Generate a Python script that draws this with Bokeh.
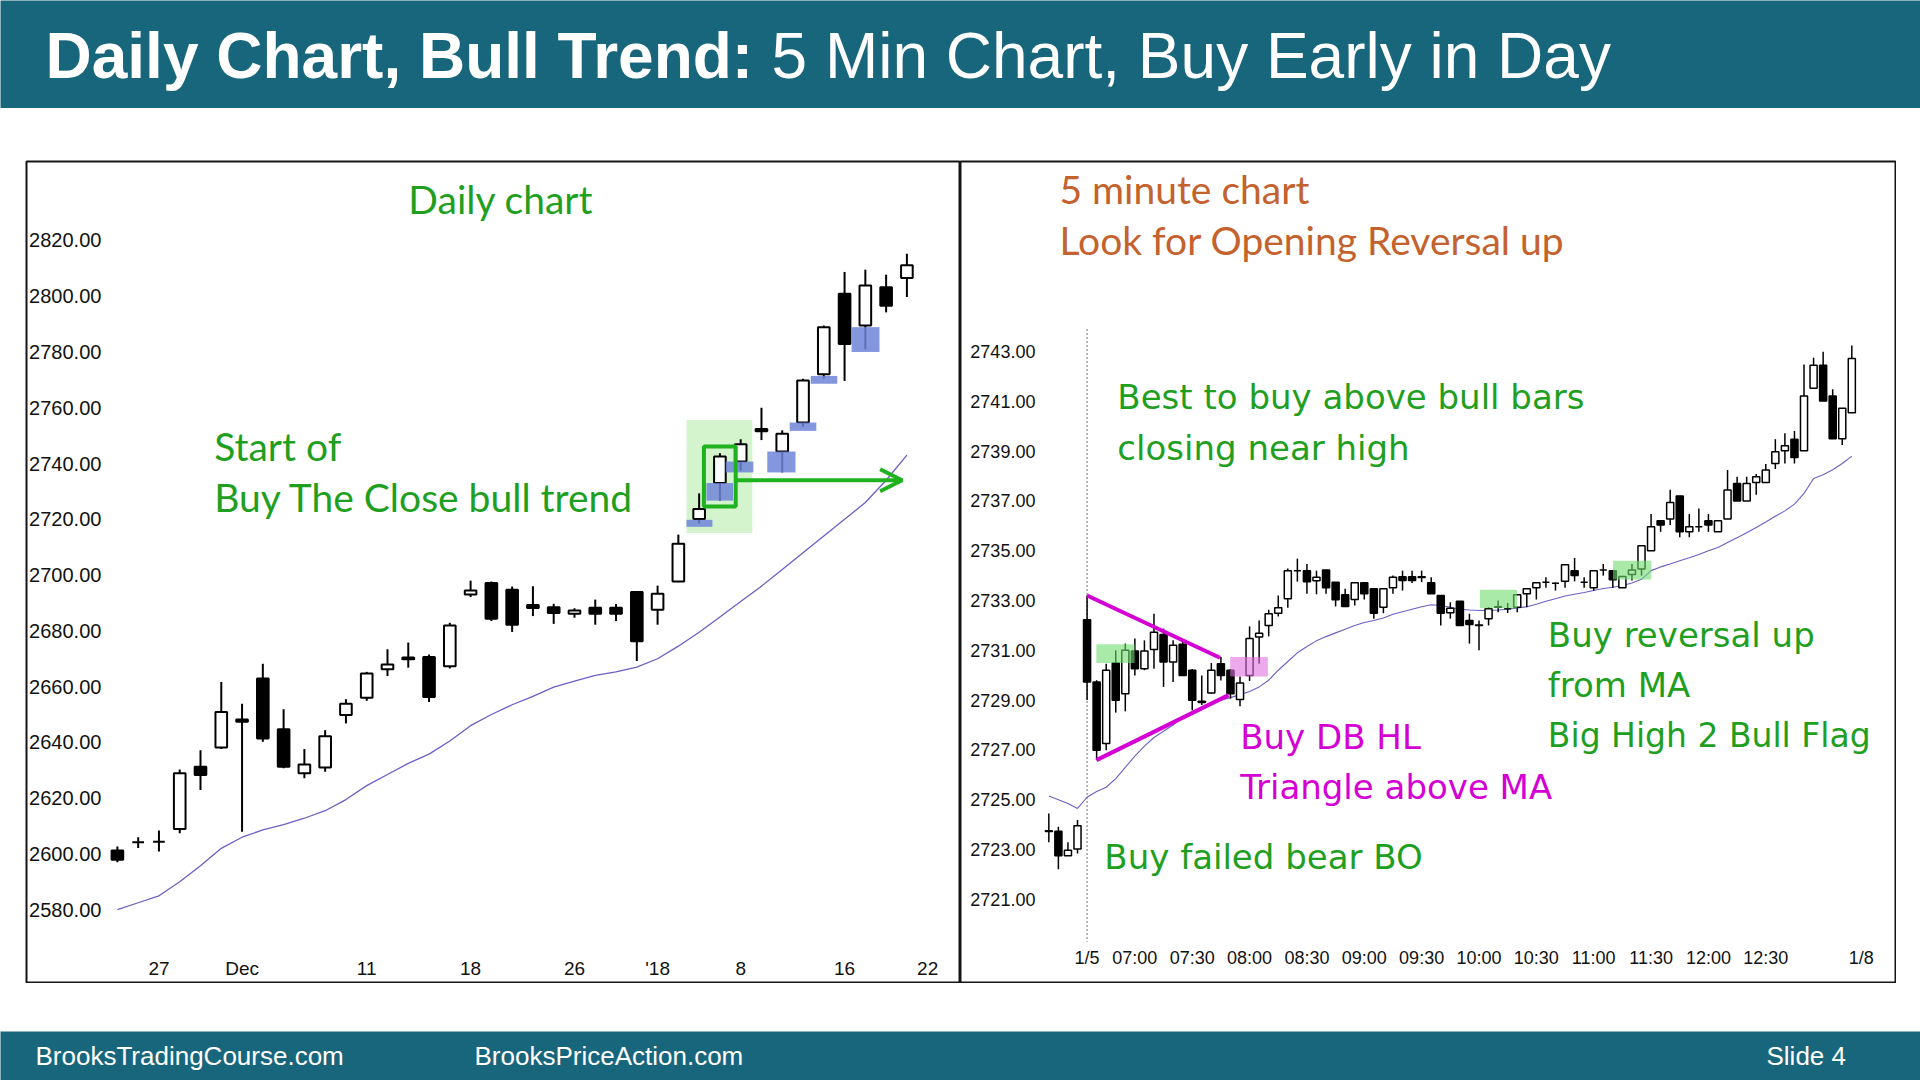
import numpy as np
from bokeh.plotting import figure
from bokeh.models import (ColumnDataSource, Range1d, FixedTicker, NumeralTickFormatter,
                          Label, Arrow, OpenHead, Spacer)
from bokeh.layouts import column, row
from bokeh.embed import file_html
from bokeh.resources import INLINE
from bokeh.core.properties import value

# ---------------- Daily chart data (bar index 0..38) ----------------
D_OPEN = [2601.2, 2604.2, 2604.4, 2608.9, 2631.3, 2638.2, 2648.2, 2662.9, 2644.7, 2628.9,
          2631.0, 2649.8, 2656.0, 2666.2, 2670.4, 2670.6, 2667.3, 2693.0, 2697.2, 2694.7,
          2689.3, 2688.5, 2686.1, 2688.3, 2688.3, 2693.9, 2687.6, 2697.7, 2720.1, 2733.0,
          2740.7, 2752.4, 2744.3, 2754.7, 2772.0, 2800.9, 2789.5, 2803.2, 2806.5]
D_HIGH = [2602.7, 2606.0, 2608.4, 2630.3, 2637.2, 2661.7, 2653.9, 2668.2, 2651.9, 2637.6,
          2644.4, 2655.5, 2665.3, 2673.4, 2675.8, 2671.5, 2682.9, 2698.0, 2697.7, 2695.9,
          2696.0, 2689.7, 2688.1, 2691.2, 2689.6, 2694.1, 2696.2, 2714.5, 2729.3, 2743.7,
          2748.7, 2760.0, 2751.9, 2770.4, 2789.5, 2808.7, 2809.5, 2807.7, 2815.2]
D_LOW = [2597.0, 2602.1, 2600.9, 2607.4, 2622.9, 2637.6, 2608.0, 2640.2, 2630.7, 2627.1,
         2629.5, 2646.8, 2654.9, 2663.8, 2666.8, 2654.5, 2666.5, 2692.1, 2683.5, 2679.6,
         2685.3, 2682.5, 2684.7, 2682.2, 2683.5, 2669.2, 2682.2, 2697.4, 2718.5, 2726.7,
         2737.4, 2748.4, 2736.8, 2753.2, 2770.4, 2769.6, 2780.9, 2794.2, 2799.7]
D_CLOSE = [2597.9, 2604.2, 2604.4, 2628.9, 2628.3, 2650.9, 2647.4, 2641.4, 2631.3, 2632.1,
           2642.2, 2653.9, 2664.7, 2667.9, 2669.8, 2656.3, 2681.9, 2694.5, 2684.3, 2682.2,
           2688.2, 2686.4, 2687.3, 2686.1, 2686.1, 2676.3, 2693.3, 2711.2, 2723.7, 2742.5,
           2746.9, 2751.6, 2750.7, 2769.8, 2788.9, 2782.9, 2803.8, 2796.6, 2811.1]
D_MA = [2580.0, 2582.5, 2585.0, 2590.0, 2595.8, 2602.0, 2606.0, 2608.6, 2610.5, 2612.8,
        2615.5, 2619.5, 2624.5, 2628.5, 2632.5, 2635.8, 2640.5, 2646.0, 2650.0, 2653.5,
        2656.5, 2659.8, 2662.0, 2664.0, 2665.3, 2667.0, 2670.0, 2674.5, 2679.5, 2685.0,
        2690.5, 2696.0, 2702.0, 2708.0, 2714.0, 2720.0, 2726.0, 2734.0, 2743.0]
D_TICK_POS = [2, 6, 12, 17, 22, 26, 30, 35, 39]
D_TICK_LAB = ["27", "Dec", "11", "18", "26", "'18", "8", "16", "22"]
D_Y_TICKS = [2580, 2600, 2620, 2640, 2660, 2680, 2700, 2720, 2740, 2760, 2780, 2800, 2820]

# highlighted tails (blue boxes) on daily chart
D_BOX_LEFT = [27.39, 28.35, 29.28, 31.28, 32.36, 33.37, 35.34]
D_BOX_RIGHT = [28.64, 29.63, 30.61, 32.64, 33.64, 34.65, 36.68]
D_BOX_BOT = [2717.3, 2726.7, 2736.8, 2736.8, 2751.7, 2768.6, 2780.0]
D_BOX_TOP = [2719.8, 2733.0, 2740.7, 2744.3, 2754.7, 2771.4, 2788.9]
D_ZONE = dict(left=[27.39], right=[30.56], bottom=[2715.1], top=[2755.6])
D_RECT = dict(left=[28.23], right=[29.76], bottom=[2724.6], top=[2746.1])
D_ARROW = dict(x0=29.76, x1=37.77, y=2734.0)

# ---------------- 5 minute chart data (bar index -4..80) ----------------
R_IDX = list(range(-4, 81))
R_OPEN = [2723.75, 2723.73, 2722.75, 2723.02,
          2732.23, 2729.73, 2727.26, 2730.49, 2729.26, 2730.97, 2730.26, 2731.03, 2731.64, 2730.53,
          2731.24, 2730.20, 2728.95, 2729.29, 2730.46, 2730.20, 2729.02, 2729.99, 2731.53, 2732.00,
          2732.49, 2733.07, 2734.20, 2734.20, 2733.79, 2734.23, 2733.73, 2733.23, 2733.04, 2733.71,
          2733.47, 2732.73, 2733.51, 2733.95, 2733.95, 2733.95, 2733.71, 2733.20, 2732.51, 2732.97,
          2732.20, 2732.02, 2732.27, 2732.75, 2732.67, 2732.73, 2733.27, 2733.51, 2733.73, 2733.69,
          2733.77, 2734.20, 2733.73, 2733.51, 2734.23, 2734.20, 2733.51, 2734.04, 2734.27, 2735.00,
          2736.20, 2736.27, 2737.20, 2735.76, 2735.96, 2736.20, 2735.76, 2736.27, 2737.70, 2737.00,
          2737.74, 2737.74, 2738.50, 2739.01, 2739.48, 2739.01, 2741.52, 2742.45, 2741.21, 2739.50,
          2740.54]
R_HIGH = [2724.45, 2723.91, 2723.29, 2724.19,
          2733.20, 2729.80, 2730.46, 2731.00, 2731.27, 2731.47, 2731.40, 2732.47, 2731.87, 2731.40,
          2731.40, 2730.25, 2729.99, 2730.49, 2730.73, 2730.25, 2729.95, 2731.96, 2732.20, 2732.63,
          2733.20, 2734.29, 2734.68, 2734.47, 2734.20, 2734.23, 2733.73, 2733.47, 2733.71, 2733.71,
          2733.47, 2733.47, 2734.00, 2734.20, 2734.20, 2734.20, 2733.93, 2733.20, 2732.93, 2732.97,
          2732.47, 2732.20, 2732.73, 2733.00, 2732.90, 2733.23, 2733.47, 2733.71, 2733.93, 2733.73,
          2734.44, 2734.71, 2733.93, 2734.20, 2734.47, 2734.20, 2733.96, 2734.47, 2735.20, 2736.47,
          2736.20, 2737.45, 2737.20, 2736.47, 2736.70, 2736.47, 2736.20, 2738.24, 2737.97, 2737.97,
          2738.08, 2738.48, 2739.48, 2739.72, 2739.81, 2742.48, 2742.75, 2742.99, 2741.48, 2740.72,
          2743.24]
R_LOW = [2723.29, 2722.21, 2722.75, 2722.84,
         2729.00, 2726.59, 2726.99, 2728.50, 2728.55, 2729.99, 2730.20, 2730.26, 2729.53, 2729.73,
         2729.99, 2728.59, 2728.80, 2729.26, 2729.79, 2729.06, 2728.75, 2729.77, 2730.46, 2731.56,
         2732.36, 2732.71, 2733.76, 2733.27, 2733.25, 2733.27, 2732.76, 2732.76, 2732.80, 2733.04,
         2732.27, 2732.49, 2733.27, 2733.40, 2733.70, 2733.74, 2733.27, 2732.00, 2732.27, 2732.00,
         2731.27, 2731.00, 2732.00, 2732.53, 2732.50, 2732.53, 2732.73, 2733.04, 2733.51, 2733.40,
         2733.51, 2733.77, 2733.51, 2733.40, 2734.00, 2733.51, 2733.51, 2733.80, 2734.00, 2735.00,
         2735.76, 2736.03, 2735.54, 2735.54, 2735.76, 2735.76, 2735.76, 2736.27, 2737.00, 2737.00,
         2737.25, 2737.74, 2738.28, 2738.50, 2738.50, 2739.01, 2741.52, 2741.01, 2739.50, 2739.25,
         2740.54]
R_CLOSE = [2723.72, 2722.75, 2722.97, 2723.95,
           2729.73, 2726.99, 2730.20, 2728.99, 2731.00, 2730.26, 2730.97, 2731.73, 2730.53, 2731.20,
           2729.99, 2728.99, 2728.90, 2730.20, 2729.99, 2729.26, 2729.69, 2731.47, 2731.69, 2732.47,
           2732.71, 2734.20, 2734.20, 2733.75, 2733.93, 2733.51, 2733.03, 2732.76, 2733.71, 2733.27,
           2732.49, 2733.47, 2733.93, 2733.80, 2733.80, 2733.92, 2733.27, 2732.49, 2732.69, 2732.00,
           2732.04, 2732.00, 2732.67, 2732.73, 2732.67, 2733.23, 2733.47, 2733.71, 2733.73, 2733.69,
           2734.44, 2734.00, 2733.73, 2734.20, 2734.23, 2733.83, 2733.96, 2734.23, 2735.20, 2735.96,
           2736.03, 2736.94, 2735.76, 2735.96, 2735.96, 2736.03, 2736.20, 2737.44, 2737.00, 2737.70,
           2737.97, 2738.24, 2738.97, 2739.21, 2738.74, 2741.21, 2742.45, 2741.01, 2739.50, 2740.72,
           2742.72]
R_MA = [2725.15, 2725.00, 2724.85, 2724.65,
        2725.10, 2725.33, 2725.50, 2725.85, 2726.30, 2726.75, 2727.15, 2727.50, 2727.75, 2728.00,
        2728.30, 2728.50, 2728.70, 2728.85, 2729.00, 2729.10, 2729.22, 2729.35, 2729.53, 2729.80,
        2730.20, 2730.55, 2730.90, 2731.15, 2731.38, 2731.55, 2731.70, 2731.85, 2732.00, 2732.12,
        2732.20, 2732.30, 2732.45, 2732.55, 2732.65, 2732.75, 2732.83, 2732.80, 2732.73, 2732.65,
        2732.62, 2732.60, 2732.60, 2732.62, 2732.65, 2732.70, 2732.75, 2732.85, 2732.97, 2733.07,
        2733.18, 2733.25, 2733.32, 2733.40, 2733.48, 2733.53, 2733.60, 2733.70, 2733.85, 2734.20,
        2734.35, 2734.47, 2734.60, 2734.72, 2734.85, 2735.00, 2735.13, 2735.33, 2735.52, 2735.72,
        2735.93, 2736.15, 2736.38, 2736.60, 2736.87, 2737.30, 2737.90, 2738.05, 2738.25, 2738.50,
        2738.80]
R_TICK_POS = [0, 5, 11, 17, 23, 29, 35, 41, 47, 53, 59, 65, 71, 81]
R_TICK_LAB = ["1/5", "07:00", "07:30", "08:00", "08:30", "09:00", "09:30", "10:00",
              "10:30", "11:00", "11:30", "12:00", "12:30", "1/8"]
R_Y_TICKS = [2721, 2723, 2725, 2727, 2729, 2731, 2733, 2735, 2737, 2739, 2741, 2743]

R_GREEN_BOX = dict(left=[0.97, 41.09, 55.02], right=[4.97, 44.98, 59.03],
                   bottom=[2730.49, 2732.69, 2733.84], top=[2731.24, 2733.43, 2734.60])
R_PINK_BOX = dict(left=[14.97], right=[18.91], bottom=[2729.95], top=[2730.73])
R_TRI_X0 = [0.0, 0.98]
R_TRI_Y0 = [2733.2, 2726.59]
R_TRI_X1 = [13.9, 14.8]
R_TRI_Y1 = [2730.7, 2729.2]
R_SESSION_START = dict(x=0, top=2743.9, bottom=2719.3)

# ---------------- styling ----------------
TEAL = "#18667c"
GREEN_TXT = "#1f9f1f"
GREEN_LINE = "#1eb21e"
MAGENTA = "#d400d4"
ORANGE = "#c4622d"
MA_COLOR = "#6b5fc7"


def candles(p, x, o, h, l, c, width, wick_w, body_w):
    o = np.asarray(o, float)
    c = np.asarray(c, float)
    up = c > o
    src = ColumnDataSource(dict(
        x=list(x), h=list(h), l=list(l),
        top=list(np.maximum(o, c)), bot=list(np.minimum(o, c)),
        fill=["white" if u else "black" for u in up]))
    p.segment("x", "h", "x", "l", source=src, line_color="black", line_width=wick_w)
    p.vbar(x="x", width=width, top="top", bottom="bot", source=src,
           fill_color="fill", line_color="black", line_width=body_w)


def panel(width, x_range, y_range, y_axis_at, x_axis_at, y_font, x_font, mb_left, mb_right):
    p = figure(width=width, height=823, x_range=x_range, y_range=y_range,
               toolbar_location=None, output_backend="svg", min_border=1,
               min_border_left=mb_left, min_border_right=mb_right,
               background_fill_color="white", border_fill_color="white")
    p.outline_line_color = "#151515"
    p.outline_line_width = 2
    p.grid.visible = False
    for ax in (p.xaxis[0], p.yaxis[0]):
        ax.axis_line_color = None
        ax.major_tick_line_color = None
        ax.minor_tick_line_color = None
        ax.major_tick_in = 0
        ax.major_tick_out = 0
        ax.minor_tick_in = 0
        ax.minor_tick_out = 0
        ax.major_label_standoff = 5
        ax.major_label_text_font = "Liberation Sans"
        ax.major_label_text_color = "#111111"
    p.yaxis[0].fixed_location = y_axis_at
    p.xaxis[0].fixed_location = x_axis_at
    p.yaxis[0].major_label_text_font_size = y_font
    p.xaxis[0].major_label_text_font_size = x_font
    return p


# ---------------- header ----------------
hdr = figure(width=1920, height=108, x_range=Range1d(0, 1920), y_range=Range1d(108, 0),
             x_axis_type=None, y_axis_type=None, toolbar_location=None, output_backend="svg",
             min_border=0, background_fill_color=TEAL, border_fill_color=TEAL,
             outline_line_color=None)
hdr.grid.visible = False
hdr.text(x=[45], y=[55], text=["Daily Chart, Bull Trend:"], text_font=value("Liberation Sans"),
         text_font_size="64px", text_font_style="bold", text_color="white",
         text_baseline="middle")
hdr.text(x=[771], y=[55], text=["5 Min Chart, Buy Early in Day"],
         text_font=value("Liberation Sans"), text_font_size="64px", text_color="white",
         text_baseline="middle")

# ---------------- footer ----------------
ftr = figure(width=1920, height=49, x_range=Range1d(0, 1920), y_range=Range1d(49, 0),
             x_axis_type=None, y_axis_type=None, toolbar_location=None, output_backend="svg",
             min_border=0, background_fill_color=TEAL, border_fill_color=TEAL,
             outline_line_color=None)
ftr.grid.visible = False
ftr.text(x=[35, 474, 1766], y=[24, 24, 24],
         text=["BrooksTradingCourse.com", "BrooksPriceAction.com", "Slide  4"],
         text_font=value("Liberation Sans"), text_font_size="26px", text_color="white",
         text_baseline="middle")

# ---------------- daily chart ----------------
pL = panel(935, Range1d(-4.375, 40.58), Range1d(2553.9, 2848.3), -0.53, 2564.6, "20px", "19px",
           1, 0)
pL.yaxis[0].ticker = FixedTicker(ticks=D_Y_TICKS)
pL.yaxis[0].formatter = NumeralTickFormatter(format="0.00")
pL.xaxis[0].ticker = FixedTicker(ticks=D_TICK_POS)
pL.xaxis[0].major_label_overrides = {k: v for k, v in zip(D_TICK_POS, D_TICK_LAB)}

d_idx = list(range(len(D_OPEN)))
pL.quad(source=ColumnDataSource(D_ZONE), left="left", right="right", bottom="bottom", top="top",
        fill_color="#d4f4ce", line_color=None)
pL.line(d_idx, D_MA, line_color=MA_COLOR, line_width=1.3)
candles(pL, d_idx, D_OPEN, D_HIGH, D_LOW, D_CLOSE, 0.56, 2, 2)
pL.quad(left=D_BOX_LEFT, right=D_BOX_RIGHT, bottom=D_BOX_BOT, top=D_BOX_TOP,
        fill_color="#6f84d8", fill_alpha=0.85, line_color=None)
pL.quad(source=ColumnDataSource(D_RECT), left="left", right="right", bottom="bottom", top="top",
        fill_color=None, line_color=GREEN_LINE, line_width=4)
pL.add_layout(Arrow(end=OpenHead(size=22, line_color=GREEN_LINE, line_width=4),
                    x_start=D_ARROW["x0"], y_start=D_ARROW["y"],
                    x_end=D_ARROW["x1"], y_end=D_ARROW["y"],
                    line_color=GREEN_LINE, line_width=4))

CAL = "Lato"
for x, y, t, al in [(18.46, 2834.95, "Daily chart", "center"),
                    (4.66, 2746.4, "Start of", "left"),
                    (4.66, 2728.15, "Buy The Close bull trend", "left")]:
    pL.add_layout(Label(x=x, y=y, text=t, text_font=CAL, text_font_size="39px",
                        text_color=GREEN_TXT, text_align=al, text_baseline="middle"))

# ---------------- 5 minute chart ----------------
pR = panel(936, Range1d(-13.24, 84.57), Range1d(2717.66, 2750.63), -4.88, 2719.24, "18px", "18px",
           0, 1)
pR.yaxis[0].ticker = FixedTicker(ticks=R_Y_TICKS)
pR.yaxis[0].formatter = NumeralTickFormatter(format="0.00")
pR.xaxis[0].ticker = FixedTicker(ticks=R_TICK_POS)
pR.xaxis[0].major_label_overrides = {k: v for k, v in zip(R_TICK_POS, R_TICK_LAB)}

pR.segment(x0=[R_SESSION_START["x"]], y0=[R_SESSION_START["top"]],
           x1=[R_SESSION_START["x"]], y1=[R_SESSION_START["bottom"]], line_color="#888888",
           line_width=1.2, line_dash="2 2")
pR.line(R_IDX, R_MA, line_color=MA_COLOR, line_width=1.1)
candles(pR, R_IDX, R_OPEN, R_HIGH, R_LOW, R_CLOSE, 0.74, 1.5, 1.5)
pR.quad(source=ColumnDataSource(R_GREEN_BOX), left="left", right="right", bottom="bottom",
        top="top", fill_color="#6fdc6f", fill_alpha=0.6, line_color=None)
pR.quad(source=ColumnDataSource(R_PINK_BOX), left="left", right="right", bottom="bottom",
        top="top", fill_color="#e070e0", fill_alpha=0.6, line_color=None)
pR.segment(x0=R_TRI_X0, y0=R_TRI_Y0, x1=R_TRI_X1, y1=R_TRI_Y1, line_color=MAGENTA,
           line_width=4)

VER = "DejaVu Sans"
for x, y, t, col, font, size in [
    (-2.89, 2749.51, "5 minute chart", ORANGE, CAL, "39px"),
    (-2.89, 2747.49, "Look for Opening Reversal up", ORANGE, CAL, "39px"),
    (3.17, 2741.16, "Best to buy above bull bars", GREEN_TXT, VER, "34px"),
    (3.17, 2739.13, "closing near high", GREEN_TXT, VER, "34px"),
    (16.02, 2727.51, "Buy DB HL", MAGENTA, VER, "34px"),
    (16.02, 2725.50, "Triangle above MA", MAGENTA, VER, "34px"),
    (1.81, 2722.70, "Buy failed bear BO", GREEN_TXT, VER, "34px"),
    (48.2, 2731.63, "Buy reversal up", GREEN_TXT, VER, "34px"),
    (48.2, 2729.61, "from MA", GREEN_TXT, VER, "34px"),
    (48.2, 2727.56, "Big High 2 Bull Flag", GREEN_TXT, VER, "33px"),
]:
    pR.add_layout(Label(x=x, y=y, text=t, text_font=font, text_font_size=size,
                        text_color=col, text_baseline="middle"))

mid = row(Spacer(width=25, height=823), pL, pR)
page = column(hdr, Spacer(width=1920, height=52), mid, Spacer(width=1920, height=48), ftr)

open("out.html", "w").write(file_html(page, INLINE))
